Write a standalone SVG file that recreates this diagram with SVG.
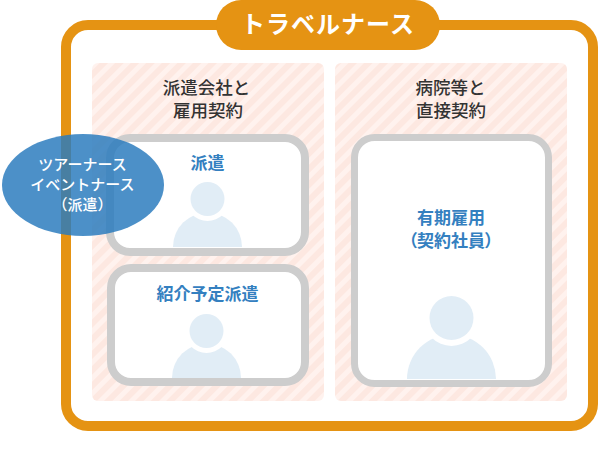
<svg xmlns="http://www.w3.org/2000/svg" width="600" height="449" viewBox="0 0 600 449">
<style>
text{font-family:"Noto Sans CJK JP","Noto Sans",sans-serif;text-anchor:middle}
.h{font-size:17.500px;font-weight:500;fill:#333}
.b{font-size:17px;font-weight:700;fill:#3480c0;font-feature-settings:"palt"}
.w{font-size:15px;font-weight:500;fill:#fff;font-feature-settings:"palt" 0}
.t{font-size:24px;font-weight:700;fill:#fff;letter-spacing:1px}
.card{fill:#fff;stroke:#cdcdcd;stroke-width:8}
.p{fill:#e1edf6}
.g{fill:#fff}
</style>
<defs>
<pattern id="st" width="11" height="11" patternUnits="userSpaceOnUse" patternTransform="rotate(45)">
<rect width="11" height="11" fill="#fde8e1"/>
<rect width="5" height="11" fill="#fff2ee"/>
</pattern>
</defs>
<g id="frame">
<rect x="66" y="25" width="527" height="401" rx="22" fill="#fff" stroke="#e59313" stroke-width="10"/>
<rect x="216" y="0" width="224" height="50" rx="25" fill="#e59313"/>
<text class="t" x="328" y="33">トラベルナース</text>
</g>
<g id="panel-left">
<rect x="92" y="63" width="232" height="338" rx="6" fill="url(#st)"/>
<text class="h" x="206.500" y="94">派遣会社と</text>
<text class="h" x="208" y="117">雇用契約</text>
</g>
<g id="panel-right">
<rect x="335" y="63" width="232" height="338" rx="6" fill="url(#st)"/>
<text class="h" x="450.500" y="94">病院等と</text>
<text class="h" x="451" y="117">直接契約</text>
</g>
<g id="card-haken">
<rect class="card" x="110" y="138" width="195" height="114" rx="20"/>
<path class="p" d="M173 247a34.500 34.500 0 0 1 69 0z"/>
<circle class="g" cx="207.500" cy="199" r="22"/>
<circle class="p" cx="207.500" cy="199" r="17"/>
<text class="b" x="207.500" y="169">派遣</text>
</g>
<g id="card-shokai">
<rect class="card" x="111" y="268" width="194" height="114" rx="20"/>
<path class="p" d="M172 378a34.500 34.500 0 0 1 69 0z"/>
<circle class="g" cx="206.500" cy="331" r="22"/>
<circle class="p" cx="206.500" cy="331" r="17"/>
<text class="b" x="207.500" y="300">紹介予定派遣</text>
</g>
<g id="card-yuki">
<rect class="card" x="354.500" y="137.500" width="194" height="246" rx="20" style="stroke-width:7"/>
<path class="p" d="M407 379a44.500 44.500 0 0 1 89 0z"/>
<circle class="g" cx="451.500" cy="318" r="28"/>
<circle class="p" cx="451.500" cy="318" r="22"/>
<text class="b" x="451" y="224">有期雇用</text>
<text class="b" x="451" y="247">（契約社員）</text>
</g>
<g id="tour">
<ellipse cx="83" cy="185" rx="81" ry="51" fill="#2a7bbd" fill-opacity=".84"/>
<text class="w" x="82.500" y="170">ツアーナース</text>
<text class="w" x="82.500" y="190">イベントナース</text>
<text class="w" x="82.500" y="210">（派遣）</text>
</g>
<g id="connectors"></g>
</svg>
